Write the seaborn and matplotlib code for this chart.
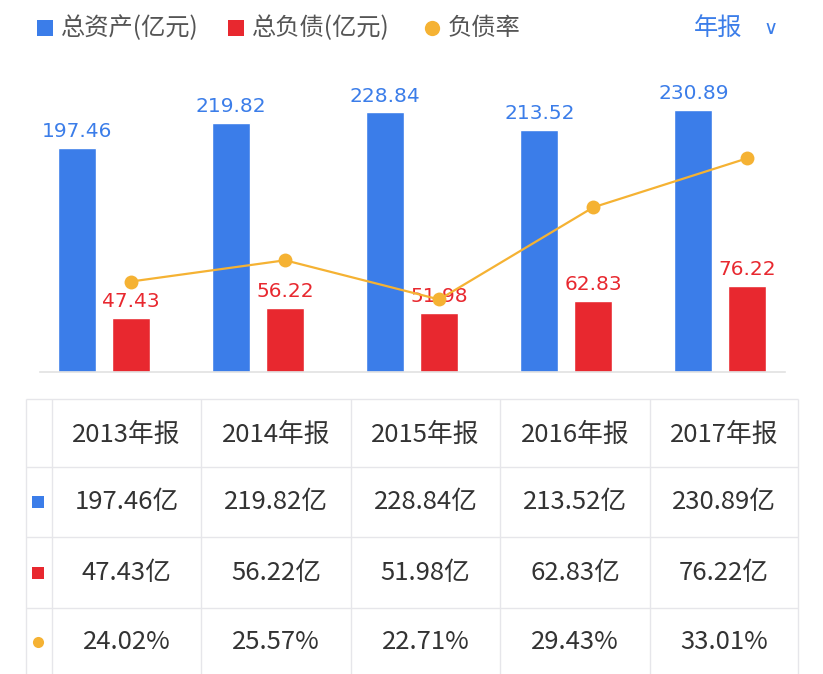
import numpy as np
import pandas as pd
import matplotlib
matplotlib.use("Agg")
import matplotlib.pyplot as plt
import seaborn as sns

# data
years = ["2013", "2014", "2015", "2016", "2017"]
assets = [197.46, 219.82, 228.84, 213.52, 230.89]   # 总资产 (亿元)
debts = [47.43, 56.22, 51.98, 62.83, 76.22]         # 总负债 (亿元)
rates = [24.02, 25.57, 22.71, 29.43, 33.01]         # 负债率 (%)
series_names = ["总资产(亿元)", "总负债(亿元)", "负债率"]

BLUE = "#3b7de9"
RED = "#e8282f"
ORANGE = "#f5b233"
TXT = "#333333"
GRID = "#e6e6ea"

sns.set_theme(style="white")
plt.rcParams["font.family"] = ["Noto Sans CJK SC", "DejaVu Sans"]

df = pd.DataFrame({
    "year": years * 2,
    "value": assets + debts,
    "kind": [series_names[0]] * 5 + [series_names[1]] * 5,
})

W, H = 823, 674
fig = plt.figure(figsize=(W / 100, H / 100), dpi=100)

# overlay in pixel coords for legend row and table
tab = fig.add_axes([0, 0, 1, 1])
tab.set_xlim(0, W)
tab.set_ylim(H, 0)
tab.axis("off")

ax = fig.add_axes([40 / W, (H - 372) / H, 745 / W, 292 / H])
sns.barplot(data=df, x="year", y="value", hue="kind", palette=[BLUE, RED],
            width=0.7, gap=0.295, saturation=1, ax=ax, legend=False)
ax.set_ylim(0, 257.5)
ax.set_xlim(-0.416, 4.42)
for c, col in zip(ax.containers, [BLUE, RED]):
    ax.bar_label(c, labels=[f"{v:.2f}" for v in c.datavalues], padding=5,
                 color=col, fontsize=14.5, family="DejaVu Sans")
ax.set_xlabel("")
ax.set_ylabel("")
ax.set_xticks([])
ax.set_yticks([])
for s in ["top", "left", "right"]:
    ax.spines[s].set_visible(False)
ax.spines["bottom"].set_color("#e2e2e2")
ax.spines["bottom"].set_linewidth(1.2)

ax2 = ax.twinx()
sns.lineplot(x=np.arange(len(years)) + 0.175, y=rates, ax=ax2, color=ORANGE,
             marker="o", markersize=10, markeredgewidth=0, linewidth=1.6)
ax2.set_ylim(17.42, 38.72)
ax2.set_xlim(-0.416, 4.42)
ax2.set_yticks([])
for s in ax2.spines.values():
    s.set_visible(False)

# legend row
leg_x = [45, 236, 432]
leg_m = [("s", BLUE), ("s", RED), ("o", ORANGE)]
for lx, (m, col), name in zip(leg_x, leg_m, series_names):
    tab.plot(lx, 28, marker=m, color=col, markersize=12 if m == "s" else 11,
             markeredgewidth=0)
    tab.text(lx + 16, 28, name, color="#555555", fontsize=17.5, ha="left", va="center")
tab.text(718, 28, "年报", color=BLUE, fontsize=17.5, ha="center", va="center")
tab.text(771, 28, "∨", color=BLUE, fontsize=14, ha="center", va="center",
         family="DejaVu Sans")

# table
col_edges = [52, 201, 351, 500, 650, 798]
row_edges = [399, 467, 537, 608]
tab.hlines(row_edges, 26, 798, color=GRID, lw=1)
tab.vlines([26] + col_edges, 399, H, color=GRID, lw=1)
centers = [(a + b) / 2 for a, b in zip(col_edges[:-1], col_edges[1:])]
row_y = [435, 502, 573, 642]
rows = [
    [f"{y}年报" for y in years],
    [f"{v:.2f}亿" for v in assets],
    [f"{v:.2f}亿" for v in debts],
    [f"{v:.2f}%" for v in rates],
]
for ry, cells in zip(row_y, rows):
    for cx, t in zip(centers, cells):
        tab.text(cx, ry, t, ha="center", va="center", fontsize=18.5, color=TXT)
tab.plot(38, row_y[1], marker="s", color=BLUE, markersize=8, markeredgewidth=0)
tab.plot(38, row_y[2], marker="s", color=RED, markersize=8, markeredgewidth=0)
tab.plot(38, row_y[3], marker="o", color=ORANGE, markersize=8, markeredgewidth=0)

fig.savefig("out.png", dpi=100)
